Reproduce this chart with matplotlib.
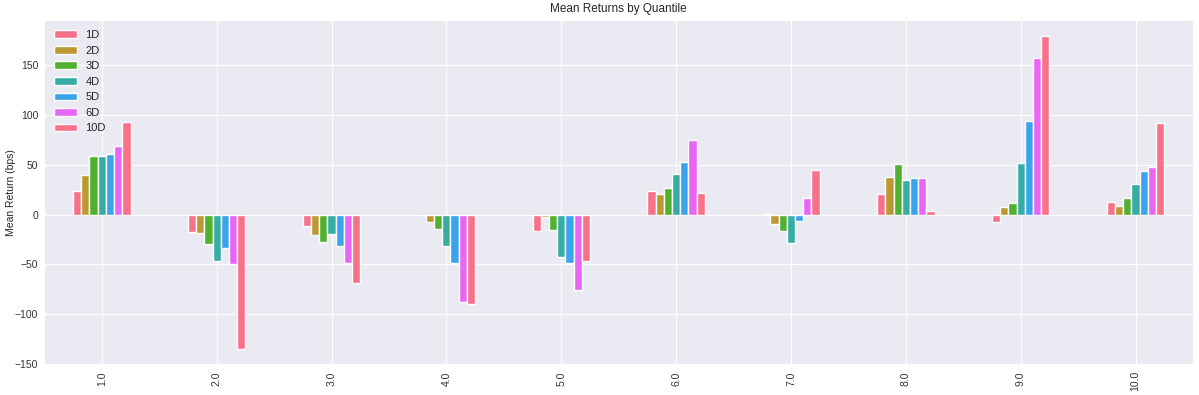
import matplotlib
matplotlib.use('Agg')
import matplotlib.pyplot as plt
import seaborn as sns
import pandas as pd

quantiles = [1.0, 2.0, 3.0, 4.0, 5.0, 6.0, 7.0, 8.0, 9.0, 10.0]
periods = ['1D', '2D', '3D', '4D', '5D', '6D', '10D']

# mean returns in bps, one list per period
ret_1d = [24, -18, -11, -0.5, -16, 24, 0.5, 21, -7, 13]
ret_2d = [40, -19, -21, -7, -2, 21, -9, 38, 8, 9]
ret_3d = [59, -30, -28, -14, -15, 27, -16, 51, 12, 17]
ret_4d = [59, -47, -20, -32, -43, 41, -29, 35, 52, 31]
ret_5d = [61, -34, -32, -49, -49, 53, -6, 37, 94, 44]
ret_6d = [69, -50, -49, -88, -76, 75, 17, 37, 157, 48]
ret_10d = [93, -135, -69, -90, -47, 22, 45, 4, 179, 92]

df = pd.DataFrame({'1D': ret_1d, '2D': ret_2d, '3D': ret_3d, '4D': ret_4d,
                   '5D': ret_5d, '6D': ret_6d, '10D': ret_10d},
                  index=pd.Index(quantiles, name=''))

sns.set_style('darkgrid')
plt.rcParams['font.family'] = ['Liberation Sans', 'DejaVu Sans']
plt.rcParams['font.size'] = 8

pal = sns.color_palette('husl', 6)
colors = [pal[i % 6] for i in range(len(periods))]

fig, ax = plt.subplots(figsize=(11.99, 3.95), dpi=100)
df[periods].plot.bar(ax=ax, color=colors)
ax.set_title('Mean Returns by Quantile', fontsize=8.5)
ax.set_ylabel('Mean Return (bps)', fontsize=7.5)
ax.yaxis.set_label_coords(-0.025, 0.5)
ax.set_xlabel('')
ax.tick_params(axis='both', labelsize=7.5, colors='#333333', pad=1)
ax.legend(loc='upper left', fontsize=8, frameon=False)

fig.subplots_adjust(left=0.037, right=0.995, top=0.949, bottom=0.076)
fig.savefig('out.png', dpi=100)
